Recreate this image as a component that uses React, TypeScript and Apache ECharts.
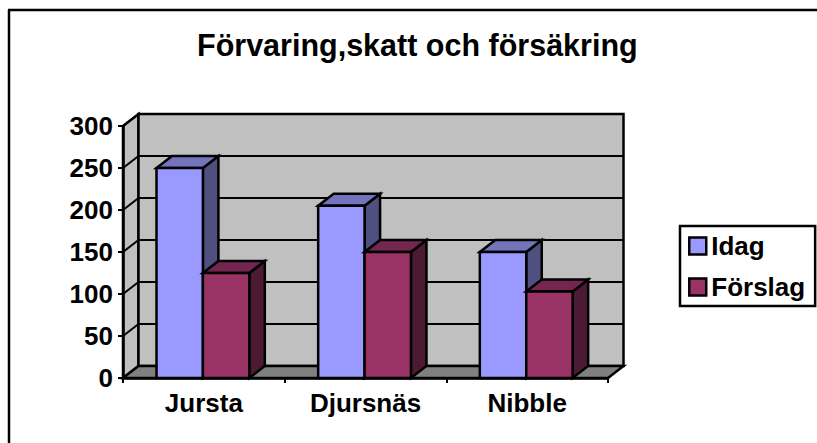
import React, { useEffect, useRef } from "react";
import * as echarts from "echarts";

const categories = ["Jursta", "Djursnäs", "Nibble"];
const idag = [250, 205, 150];
const forslag = [125, 150, 103];
const yTicks = [0, 50, 100, 150, 200, 250, 300];
const titleText = "Förvaring,skatt och försäkring";

const FONT = '"Liberation Sans", Arial, sans-serif';
const DX = 15.5;
const DY = -12;
const BAR_RATIO = 0.287;
const LW = 2.5;

function shade(points: number[][], fill: string) {
  return {
    type: "polygon",
    shape: { points },
    style: { fill, stroke: "#000", lineWidth: LW, lineJoin: "miter" },
  };
}

function wallsItem(_p: any, api: any) {
  const band = api.size([1, 0])[0];
  const n = categories.length;
  const b0 = api.coord([0, 0]);
  const t0 = api.coord([0, 300]);
  const left = b0[0] - band / 2;
  const right = left + band * n;
  const bottom = b0[1];
  const top = t0[1];
  return {
    type: "group",
    children: [
      shade([[left, top], [left + DX, top + DY], [left + DX, bottom + DY], [left, bottom]], "#c0c0c0"),
      shade([[left + DX, top + DY], [right + DX, top + DY], [right + DX, bottom + DY], [left + DX, bottom + DY]], "#c0c0c0"),
      shade([[left, bottom], [left + DX, bottom + DY], [right + DX, bottom + DY], [right, bottom]], "#808080"),
    ],
  };
}

function gridItem(_p: any, api: any) {
  const band = api.size([1, 0])[0];
  const c = api.coord([0, api.value(0)]);
  const left = c[0] - band / 2;
  const right = left + band * categories.length;
  const y = c[1];
  const line = { stroke: "#000", lineWidth: 2 };
  return {
    type: "group",
    children: [
      { type: "line", shape: { x1: left, y1: y, x2: left + DX, y2: y + DY }, style: line },
      { type: "line", shape: { x1: left + DX, y1: y + DY, x2: right + DX, y2: y + DY }, style: line },
    ],
  };
}

function barRenderer(offset: number, front: string, topC: string, sideC: string) {
  return (_p: any, api: any) => {
    const band = api.size([1, 0])[0];
    const w = band * BAR_RATIO;
    const top = api.coord([api.value(0), api.value(1)]);
    const base = api.coord([api.value(0), 0]);
    const x0 = top[0] + offset * w;
    const x1 = x0 + w;
    const yT = top[1];
    const yB = base[1];
    return {
      type: "group",
      children: [
        shade([[x1, yT], [x1 + DX, yT + DY], [x1 + DX, yB + DY], [x1, yB]], sideC),
        shade([[x0, yT], [x0 + DX, yT + DY], [x1 + DX, yT + DY], [x1, yT]], topC),
        shade([[x0, yT], [x1, yT], [x1, yB], [x0, yB]], front),
      ],
    };
  };
}

export default function App() {
  const ref = useRef<HTMLDivElement>(null);
  useEffect(() => {
    document.body.style.margin = "0";
    const chart = echarts.init(ref.current!, undefined, { renderer: "svg" });
    chart.setOption({
      animation: false,
      backgroundColor: "#fff",
      title: {
        text: titleText,
        left: 197,
        top: 29,
        padding: 0,
        textStyle: { fontFamily: FONT, fontWeight: "bold", fontSize: 30.5, color: "#000" },
      },
      grid: { left: 123, right: 209, top: 126, bottom: 65 },
      xAxis: {
        type: "category",
        data: categories,
        boundaryGap: true,
        axisLine: { show: true, lineStyle: { color: "#000", width: LW } },
        axisTick: { show: true, length: 5, lineStyle: { color: "#000", width: 2 } },
        axisLabel: { color: "#000", fontFamily: FONT, fontWeight: "bold", fontSize: 26, margin: 12 },
        splitLine: { show: false },
        z: 10,
      },
      yAxis: {
        type: "value",
        min: 0,
        max: 300,
        interval: 50,
        axisLine: { show: true, lineStyle: { color: "#000", width: LW } },
        axisTick: { show: true, length: 5, lineStyle: { color: "#000", width: 2 } },
        axisLabel: { color: "#000", fontFamily: FONT, fontWeight: "bold", fontSize: 26, margin: 10 },
        splitLine: { show: false },
        z: 10,
      },
      legend: {
        orient: "vertical",
        left: 680,
        top: 226,
        padding: [7, 10, 6, 8],
        itemGap: 15,
        itemWidth: 17,
        itemHeight: 17,
        borderColor: "#000",
        borderWidth: LW,
        backgroundColor: "#fff",
        selectedMode: false,
        textStyle: { color: "#000", fontFamily: FONT, fontWeight: "bold", fontSize: 26 },
        data: [
          { name: "Idag", icon: "rect", itemStyle: { color: "#9999ff", borderColor: "#000", borderWidth: LW } },
          { name: "Förslag", icon: "rect", itemStyle: { color: "#993366", borderColor: "#000", borderWidth: LW } },
        ],
      },
      graphic: [
        { type: "line", silent: true, shape: { x1: 9, y1: 10, x2: 9, y2: 443 }, style: { stroke: "#000", lineWidth: LW } },
        { type: "line", silent: true, shape: { x1: 8, y1: 10, x2: 817, y2: 10 }, style: { stroke: "#000", lineWidth: LW } },
      ],
      series: [
        { type: "custom", name: "walls", silent: true, clip: false, z: 1, renderItem: wallsItem, data: [[0]], encode: { x: 0 } },
        { type: "custom", name: "grid", silent: true, clip: false, z: 2, renderItem: gridItem, data: yTicks.slice(1).map((v) => [v]), encode: { y: 0 } },
        {
          type: "custom",
          name: "Idag",
          clip: false,
          z: 3,
          itemStyle: { color: "#9999ff" },
          renderItem: barRenderer(-1.02, "#9999ff", "#7474bd", "#4f4f80"),
          encode: { x: 0, y: 1 },
          data: idag.map((v, i) => [i, v]),
        },
        {
          type: "custom",
          name: "Förslag",
          clip: false,
          z: 4,
          itemStyle: { color: "#993366" },
          renderItem: barRenderer(-0.02, "#993366", "#732650", "#4d1a33"),
          encode: { x: 0, y: 1 },
          data: forslag.map((v, i) => [i, v]),
        },
      ],
    });
    return () => chart.dispose();
  }, []);
  return <div ref={ref} style={{ width: 817, height: 443 }} />;
}
